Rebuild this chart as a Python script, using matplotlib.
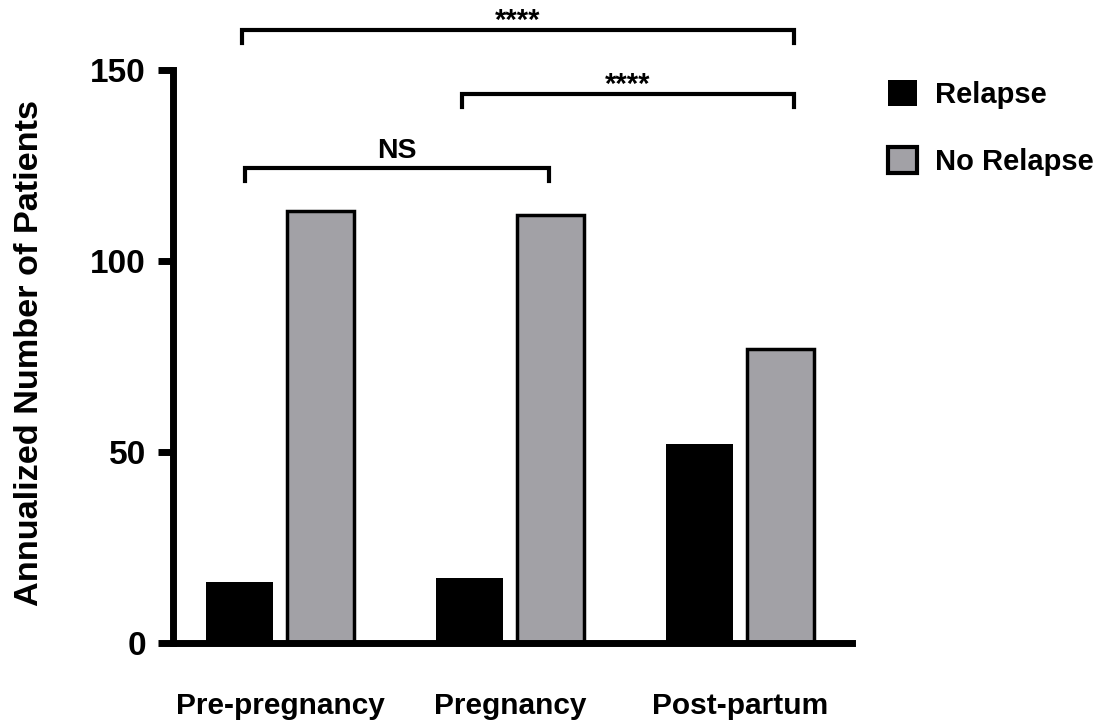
import matplotlib
matplotlib.use('Agg')
import matplotlib.pyplot as plt
from matplotlib.patches import Patch
import numpy as np

plt.rcParams['font.family'] = ['Liberation Sans', 'DejaVu Sans']
plt.rcParams['font.weight'] = 'bold'

periods = ['Pre-pregnancy', 'Pregnancy', 'Post-partum']
relapse = [16, 17, 52]
no_relapse = [113, 112, 77]
yticks = [0, 50, 100, 150]

# significance brackets: (x start, x end, height, label)
brackets = [
    (-0.165, 2.235, 160.5, '****'),
    (0.79, 2.235, 143.7, '****'),
    (-0.152, 1.17, 124.3, 'NS'),
]

gray = '#a2a1a6'

fig = plt.figure(figsize=(11.07, 7.24), dpi=100)
ax = fig.add_axes([0.1563, 0.1119, 0.6133, 0.7914])

x = np.arange(len(periods))
w = 0.29
off = 0.175
ax.bar(x - off, relapse, w, color='black', edgecolor='black', linewidth=0)
ax.bar(x + off, no_relapse, w, color=gray, edgecolor='black', linewidth=2.5)

ax.set_xlim(-0.465, 2.487)
ax.set_ylim(0, 150)
ax.set_yticks(yticks)
ax.set_xticks(x)
ax.set_xticklabels(periods, fontsize=21.5, fontweight='bold')
ax.tick_params(axis='x', length=0, pad=35)
ax.tick_params(axis='y', length=10.5, width=5, pad=9, labelsize=24)
for lab in ax.get_yticklabels():
    lab.set_fontweight('bold')

for s in ['top', 'right']:
    ax.spines[s].set_visible(False)
for s in ['left', 'bottom']:
    ax.spines[s].set_linewidth(5)

fig.text(30 / 1107, 1 - 353 / 724, 'Annualized Number of Patients', rotation=90,
         ha='center', va='center', fontsize=24.7, fontweight='bold')

leg_h = 3.4
for x0, x1, yb, lab in brackets:
    ax.plot([x0, x0, x1, x1], [yb - leg_h, yb, yb, yb - leg_h], color='black',
            linewidth=3, clip_on=False, solid_joinstyle='miter')
    if lab == 'NS':
        ax.text((x0 + x1) / 2, yb + 2.7, lab, ha='center', va='baseline',
                fontsize=20.5, fontweight='bold')
    else:
        ax.text((x0 + x1) / 2, yb + 0.3, lab, ha='center', va='baseline',
                fontsize=21, fontweight='bold')

handles = [Patch(facecolor='black', edgecolor='black', linewidth=0),
           Patch(facecolor=gray, edgecolor='black', linewidth=3)]
fig.legend(handles, ['Relapse', 'No Relapse'], loc='upper left',
           bbox_to_anchor=(888 / 1107, 1 - 80 / 724), frameon=False,
           handlelength=1.0, handleheight=1.0, handletextpad=0.6,
           labelspacing=1.3, borderpad=0, borderaxespad=0,
           prop={'weight': 'bold', 'size': 21})

fig.savefig('out.png', dpi=100)
